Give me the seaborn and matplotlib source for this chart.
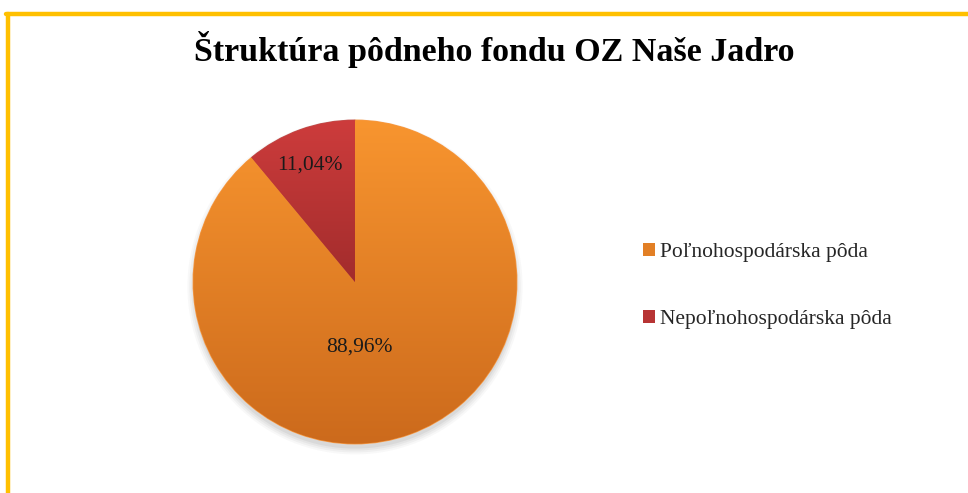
import numpy as np
import matplotlib
matplotlib.use("Agg")
import matplotlib.pyplot as plt
import seaborn as sns
from matplotlib.colors import LinearSegmentedColormap
from matplotlib.lines import Line2D

# ----------------------- DATA -----------------------
categories = ["Poľnohospodárska pôda", "Nepoľnohospodárska pôda"]
shares = [88.96, 11.04]
pct_labels = ["88,96%", "11,04%"]
title = "Štruktúra pôdneho fondu OZ Naše Jadro"

# top / bottom colours of each slice gradient
grad_top = ["#F8952F", "#CD3C3C"]
grad_bottom = ["#CC6A1C", "#A22C2C"]
edge_cols = ["#F79A45", "#C0504D"]

# ----------------------- STYLE ----------------------
sns.set_theme(style="white")
plt.rcParams["font.family"] = ["Liberation Serif", "DejaVu Serif"]

fig = plt.figure(figsize=(9.68, 4.93), dpi=100)
fig.patch.set_facecolor("white")

# yellow frame (top + left edge visible)
W, H = 968, 493
fig.add_artist(Line2D([6 / W, 1], [1 - 14 / H, 1 - 14 / H], color="#FFC000", lw=3.2, transform=fig.transFigure))
fig.add_artist(Line2D([7.5 / W, 7.5 / W], [0, 1 - 14 / H], color="#FFC000", lw=3.2, transform=fig.transFigure))

fig.text(494 / W, 1 - 50 / H, title, ha="center", va="center", fontsize=24.5, fontweight="bold", color="black")

# ----------------------- PIE ------------------------
cx, cy, r = 355, 282, 165
ax = fig.add_axes([(cx - r) / W, (H - cy - r) / H, 2 * r / W, 2 * r / H])

# soft shadow under the pie
for i, a in enumerate([0.04, 0.05, 0.06, 0.08]):
    sh = plt.Circle((0, -0.03), 1.0 + 0.012 * (3 - i), color="#555555", alpha=a, lw=0, zorder=0, clip_on=False)
    ax.add_patch(sh)

wedges, texts, autotexts = ax.pie(
    shares,
    colors=[sns.blend_palette([t, b], 3)[1] for t, b in zip(grad_top, grad_bottom)],
    startangle=90,
    counterclock=False,
    autopct="%1.2f%%",
    pctdistance=0.74,
    wedgeprops=dict(linewidth=1.0),
    textprops=dict(fontsize=15.5, color="#1a1a1a"),
)

# gradient fill clipped to every wedge
for w, t, b, ec in zip(wedges, grad_top, grad_bottom, edge_cols):
    w.set_edgecolor(ec)
    verts = w.get_path().vertices
    x0, x1 = verts[:, 0].min(), verts[:, 0].max()
    y0, y1 = verts[:, 1].min(), verts[:, 1].max()
    cmap = LinearSegmentedColormap.from_list("g", [b, t])
    grad = np.linspace(0, 1, 256).reshape(-1, 1)
    im = ax.imshow(grad, cmap=cmap, extent=[x0, x1, y0, y1], origin="lower", aspect="auto", zorder=1.5)
    im.set_clip_path(w)
    w.set_zorder(1)

for txt, lab in zip(autotexts, pct_labels):
    txt.set_text(lab)
    txt.set_zorder(3)
autotexts[0].set_position((0.03, -0.40))
autotexts[1].set_position((-0.28, 0.72))

ax.set_xlim(-1.02, 1.02)
ax.set_ylim(-1.02, 1.02)
ax.set_aspect("equal")
ax.axis("off")

# ----------------------- LEGEND ---------------------
handles = [plt.Rectangle((0, 0), 1, 1, facecolor=sns.blend_palette([t, b], 3)[1], edgecolor="none")
           for t, b in zip(grad_top, grad_bottom)]
fig.legend(handles, categories, loc="center left", bbox_to_anchor=(643 / W, 1 - 286 / H),
           frameon=False, fontsize=15.5, handlelength=0.55, handleheight=0.55,
           handletextpad=0.25, labelspacing=2.25, borderpad=0, borderaxespad=0)

fig.savefig("out.png", dpi=100)
